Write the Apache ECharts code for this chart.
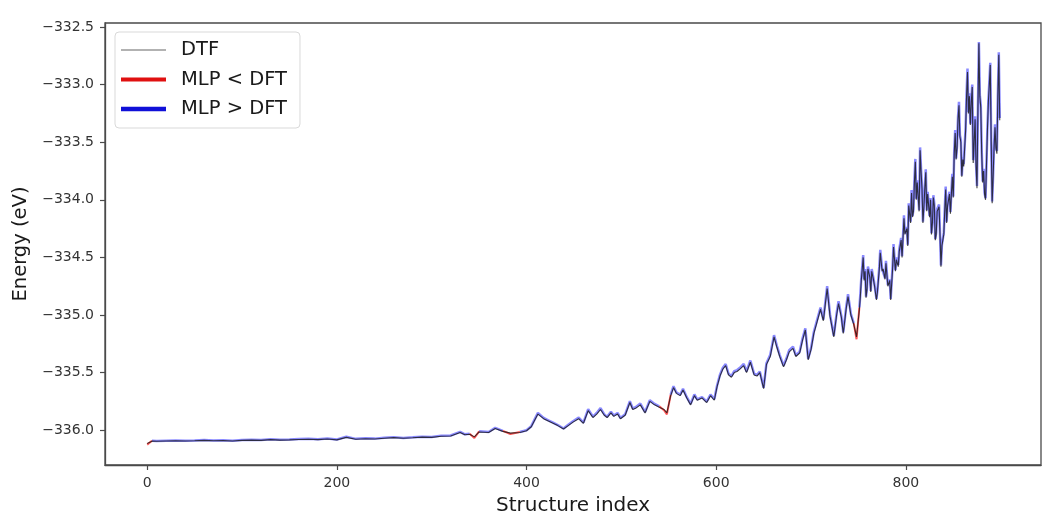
<!DOCTYPE html>
<html>
<head>
<meta charset="utf-8">
<script src="https://cdn.jsdelivr.net/npm/echarts@6/dist/echarts.min.js"></script>
<style>
html,body{margin:0;padding:0;background:#fff;}
#chart{width:1042px;height:513px;}
</style>
</head>
<body>
<div id="chart"></div>
<script>
// ---- data ----
var structureIndex = [
0,5,10,20,30,40,50,60,70,80,90,100,
110,120,130,140,150,160,170,180,190,200,
210,220,230,240,250,260,270,280,290,300,
310,320,330,335,340,345,350,360,367,375,383,393,400,
405,412,418,423,428,433,439,444,449,455,460,465,470,474,478,482,485,489,492,496,499,
504,509,512,515,520,525,530,535,540,545,548,552,555,558,562,565,569,573,577,580,
585,590,594,598,601,604,607,610,613,616,619,622,625,629,632,636,640,643,646,650,
653,657,661,664,667,671,674,677,681,684,688,691,694,697,700,703,706,710,713,717,
720,724,727,729,732,734,737,739,742,745,748,
751,752,753,754,755,756,757,758,759,760,
762,763,764,766,767,769,770,772,773,775,
776,778,779,781,783,784,786,787,789,790,
792,793,795,796,798,799,801,802,803,805,
806,807,808,809,810,811,812,814,815,816,
817,818,819,820,821,822,823,825,826,827,
828,829,830,831,832,833,835,836,837,838,
840,841,842,843,844,846,847,848,849,850,
851,852,853,854,855,856,857,858,859,860,
861,862,863,864,865,866,867,868,869,870,
871,872,873,874,875,876,877,878,879,880,
881,882,883,884,885,886,887,888,889,890,
891,892,893,894,895,896,897,898,899
];
var dftEnergy = [
-336.115,-336.095,-336.096,-336.094,-336.093,-336.094,-336.092,-336.088,-336.092,-336.090,-336.094,-336.088,
-336.086,-336.088,-336.082,-336.086,-336.084,-336.080,-336.078,-336.082,-336.076,-336.084,
-336.062,-336.078,-336.074,-336.076,-336.070,-336.064,-336.070,-336.066,-336.060,-336.062,
-336.052,-336.050,-336.020,-336.040,-336.035,-336.058,-336.015,-336.020,-335.985,-336.010,-336.025,-336.020,-336.005,
-335.97,-335.86,-335.90,-335.92,-335.94,-335.96,-335.99,-335.96,-335.93,-335.90,-335.94,-335.83,-335.89,-335.86,-335.82,-335.87,-335.89,-335.85,-335.88,-335.86,-335.90,
-335.87,-335.76,-335.82,-335.81,-335.78,-335.85,-335.75,-335.78,-335.80,-335.82,-335.85,-335.70,-335.63,-335.68,-335.70,-335.65,-335.72,-335.78,-335.70,-335.74,
-335.72,-335.76,-335.70,-335.74,-335.62,-335.53,-335.47,-335.44,-335.52,-335.54,-335.50,-335.49,-335.47,-335.44,-335.50,-335.41,-335.52,-335.53,-335.50,-335.64,
-335.43,-335.36,-335.19,-335.28,-335.36,-335.45,-335.39,-335.32,-335.29,-335.36,-335.33,-335.22,-335.13,-335.39,-335.30,-335.16,-335.07,-334.95,-335.05,-334.77,
-335.01,-335.19,-335.00,-334.90,-335.02,-335.16,-334.95,-334.84,-335.00,-335.08,-335.19,
-334.95,-334.84,-334.70,-334.60,-334.50,-334.70,-334.62,-334.85,-334.78,-334.60,
-334.67,-334.80,-334.62,-334.70,-334.75,-334.87,-334.80,-334.60,-334.46,-334.62,
-334.60,-334.69,-334.55,-334.75,-334.70,-334.87,-334.60,-334.41,-334.62,-334.52,
-334.58,-334.45,-334.35,-334.50,-334.16,-334.30,-334.25,-334.40,-334.05,-334.20,
-333.94,-334.15,-334.10,-333.85,-333.67,-334.00,-333.85,-334.10,-333.57,-333.75,
-333.90,-334.20,-334.06,-333.90,-333.76,-334.10,-333.95,-334.15,-334.00,-334.30,
-334.20,-333.98,-334.05,-334.35,-334.30,-334.10,-334.06,-334.30,-334.58,-334.40,
-334.30,-334.10,-333.91,-334.20,-334.05,-333.95,-334.12,-333.95,-333.80,-333.98,
-333.60,-333.42,-333.65,-333.55,-333.30,-333.18,-333.45,-333.50,-333.80,-333.65,
-333.71,-333.55,-333.40,-333.10,-332.89,-333.25,-333.10,-333.35,-333.15,-333.02,
-333.68,-333.50,-333.30,-333.70,-333.90,-333.20,-332.64,-333.10,-333.20,-333.60,
-333.85,-333.75,-333.95,-334.00,-333.70,-333.40,-333.15,-333.00,-332.83,-333.50,
-334.03,-333.80,-333.55,-333.37,-333.55,-333.60,-333.10,-332.74,-333.31
];
var mlpEnergy = [
-336.125,-336.092,-336.093,-336.091,-336.090,-336.091,-336.089,-336.084,-336.089,-336.087,-336.091,-336.084,
-336.082,-336.085,-336.078,-336.083,-336.080,-336.076,-336.074,-336.079,-336.072,-336.081,
-336.057,-336.075,-336.070,-336.073,-336.066,-336.060,-336.067,-336.062,-336.056,-336.059,
-336.047,-336.046,-336.014,-336.036,-336.031,-336.068,-336.010,-336.016,-335.979,-336.006,-336.033,-336.016,-336.000,
-335.965,-335.850,-335.893,-335.914,-335.934,-335.955,-335.985,-335.952,-335.922,-335.890,-335.934,-335.818,-335.882,-335.850,-335.808,-335.862,-335.884,-335.840,-335.872,-335.850,-335.893,
-335.862,-335.748,-335.812,-335.800,-335.768,-335.843,-335.740,-335.772,-335.793,-335.826,-335.862,-335.692,-335.618,-335.672,-335.692,-335.640,-335.713,-335.772,-335.690,-335.732,
-335.712,-335.752,-335.690,-335.732,-335.610,-335.518,-335.458,-335.425,-335.510,-335.530,-335.488,-335.478,-335.458,-335.425,-335.490,-335.395,-335.510,-335.520,-335.490,-335.632,
-335.418,-335.345,-335.175,-335.268,-335.348,-335.440,-335.378,-335.305,-335.275,-335.350,-335.318,-335.205,-335.115,-335.380,-335.288,-335.145,-335.055,-334.935,-335.040,-334.750,
-334.995,-335.180,-334.985,-334.880,-335.010,-335.150,-334.935,-334.820,-334.990,-335.070,-335.210,
-334.935,-334.82,-334.68,-334.58,-334.48,-334.69,-334.60,-334.84,-334.765,-334.58,
-334.65,-334.79,-334.60,-334.69,-334.74,-334.86,-334.79,-334.58,-334.435,-334.60,
-334.585,-334.68,-334.53,-334.74,-334.69,-334.86,-334.58,-334.385,-334.61,-334.50,
-334.565,-334.43,-334.33,-334.49,-334.135,-334.29,-334.235,-334.39,-334.03,-334.19,
-333.915,-334.14,-334.085,-333.83,-333.645,-333.99,-333.83,-334.09,-333.545,-333.73,
-333.885,-334.19,-334.05,-333.88,-333.735,-334.09,-333.93,-334.14,-333.985,-334.29,
-334.185,-333.96,-334.035,-334.34,-334.285,-334.08,-334.04,-334.29,-334.57,-334.39,
-334.285,-334.08,-333.885,-334.19,-334.03,-333.93,-334.105,-333.93,-333.775,-333.97,
-333.58,-333.395,-333.64,-333.53,-333.28,-333.15,-333.44,-333.48,-333.79,-333.63,
-333.69,-333.53,-333.375,-333.08,-332.86,-333.24,-333.075,-333.34,-333.13,-333.00,
-333.655,-333.49,-333.275,-333.69,-333.88,-333.19,-332.63,-333.09,-333.175,-333.575,
-333.84,-333.73,-333.94,-333.985,-333.69,-333.375,-333.14,-332.975,-332.81,-333.49,
-334.015,-333.79,-333.525,-333.345,-333.54,-333.575,-333.09,-332.72,-333.29
];
var xTicks = [0, 200, 400, 600, 800];
var yTicks = [-336.0, -335.5, -335.0, -334.5, -334.0, -333.5, -333.0, -332.5];

// ---- build series data ----
var dftData = [], blueData = [], redData = [];
var n = Math.min(structureIndex.length, dftEnergy.length, mlpEnergy.length);
var below = mlpEnergy.map(function (m, i) { return m < dftEnergy[i]; });
for (var i = 0; i < n; i++) {
  dftData.push([structureIndex[i], dftEnergy[i]]);
  var redNear = below[i] || (i > 0 && below[i - 1]) || (i < n - 1 && below[i + 1]);
  blueData.push([structureIndex[i], !below[i] ? mlpEnergy[i] : null]);
  redData.push([structureIndex[i], redNear ? mlpEnergy[i] : null]);
}

var FONT = 'DejaVu Sans';
function minusFmt(v) {
  var s = Math.abs(v).toFixed(1);
  return (v < 0 ? '\u2212' : '') + s;
}

var chart = echarts.init(document.getElementById('chart'), null, {renderer: 'canvas'});
chart.setOption({
  animation: false,
  backgroundColor: '#ffffff',
  grid: {
    left: 105, right: 1, top: 23, bottom: 48,
    containLabel: false,
    outerBoundsMode: 'none',
    show: true, borderColor: '#4a4a4a', borderWidth: 1.3, backgroundColor: 'transparent'
  },
  legend: {
    orient: 'vertical',
    left: 115, top: 32,
    padding: [8, 13, 9, 6],
    itemGap: 9.5,
    itemWidth: 45, itemHeight: 14,
    symbolKeepAspect: true,
    backgroundColor: 'rgba(255,255,255,0.85)',
    borderColor: '#d9d9d9', borderWidth: 1, borderRadius: 4,
    textStyle: { fontFamily: FONT, fontSize: 19.5, color: '#1a1a1a', padding: [0, 0, 0, 10] },
    data: [
      { name: 'DTF', icon: 'path://M0,0L45,0L45,1.2L0,1.2Z', itemStyle: { color: '#666666', borderWidth: 0, opacity: 1 } },
      { name: 'MLP < DFT', icon: 'path://M0,0L45,0L45,4L0,4Z', itemStyle: { color: '#e01010', borderWidth: 0, opacity: 1 } },
      { name: 'MLP > DFT', icon: 'path://M0,0L45,0L45,4.5L0,4.5Z', itemStyle: { color: '#1010d8', borderWidth: 0, opacity: 1 } }
    ]
  },
  xAxis: {
    type: 'value',
    min: -44.5, max: 942.5,
    name: 'Structure index',
    nameLocation: 'middle', nameGap: 31,
    nameTextStyle: { fontFamily: FONT, fontSize: 20, color: '#1a1a1a' },
    splitLine: { show: false },
    axisLine: { show: true, onZero: false, lineStyle: { color: '#4a4a4a', width: 1.3 } },
    axisTick: { show: true, customValues: xTicks, length: 5, lineStyle: { color: '#4a4a4a', width: 1.2 } },
    axisLabel: { customValues: xTicks, margin: 11, fontFamily: FONT, fontSize: 14, color: '#333333' }
  },
  yAxis: {
    type: 'value',
    min: -336.302, max: -332.465,
    name: 'Energy (eV)',
    nameLocation: 'middle', nameGap: 72,
    nameTextStyle: { fontFamily: FONT, fontSize: 19.5, color: '#1a1a1a' },
    splitLine: { show: false },
    axisLine: { show: true, onZero: false, lineStyle: { color: '#4a4a4a', width: 1.3 } },
    axisTick: { show: true, customValues: yTicks, length: 5, lineStyle: { color: '#4a4a4a', width: 1.2 } },
    axisLabel: { customValues: yTicks, margin: 11, fontFamily: FONT, fontSize: 14, color: '#333333', formatter: minusFmt }
  },
  series: [
    {
      name: 'MLP > DFT', type: 'line', data: blueData, symbol: 'none', z: 2,
      connectNulls: false,
      lineStyle: { color: '#2a2aff', width: 2.5, opacity: 0.55 }
    },
    {
      name: 'MLP < DFT', type: 'line', data: redData, symbol: 'none', z: 3,
      connectNulls: false,
      lineStyle: { color: '#ff1010', width: 2, opacity: 0.7 }
    },
    {
      name: 'DTF', type: 'line', data: dftData, symbol: 'none', z: 4,
      lineStyle: { color: '#151515', width: 1.1, opacity: 0.8 }
    }
  ]
});
</script>
</body>
</html>
